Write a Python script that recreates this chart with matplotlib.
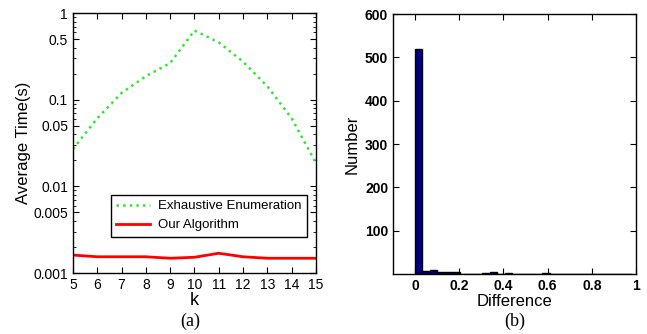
import numpy as np
import matplotlib.pyplot as plt
from matplotlib.ticker import LogLocator, NullFormatter, FixedLocator

plt.rcParams['font.family'] = ['Liberation Sans', 'DejaVu Sans']

# (a) average running time vs k
k = [5, 6, 7, 8, 9, 10, 11, 12, 13, 14, 15]
exhaustive = [0.027, 0.061, 0.12, 0.187, 0.265, 0.63, 0.46, 0.275, 0.143, 0.061, 0.0186]
ours = [0.00161, 0.00154, 0.00154, 0.00154, 0.00148, 0.00152, 0.00169, 0.00154, 0.00148, 0.00148, 0.00148]

# (b) histogram of differences
bin_width = 0.034
diff_counts = [520, 8, 9, 4, 4, 4, 1, 1, 1, 2, 4, 1, 2, 1, 1, 1, 0, 3, 1, 0,
               0, 0, 0, 0, 0, 0, 0, 0, 0]
diff_centers = [bin_width * (i + 0.5) - 0.002 for i in range(len(diff_counts))]

fig = plt.figure(figsize=(6.47, 3.34), dpi=100)

# ---- left panel ----
ax1 = fig.add_axes([0.1128, 0.1826, 0.3756, 0.778])
ax1.plot(k, exhaustive, color='#2ee82e', linestyle=':', linewidth=1.8,
         label='Exhaustive Enumeration')
ax1.plot(k, ours, color='red', linestyle='-', linewidth=2.0, label='Our Algorithm')
ax1.set_yscale('log')
ax1.set_xlim(5, 15)
ax1.set_ylim(0.001, 1)
ax1.set_xticks(range(5, 16))
ax1.yaxis.set_major_locator(FixedLocator([0.001, 0.005, 0.01, 0.05, 0.1, 0.5, 1]))
ax1.set_yticklabels(['0.001', '0.005', '0.01', '0.05', '0.1', '0.5', '1'])
ax1.yaxis.set_minor_locator(LogLocator(base=10, subs=(2, 3, 4, 6, 7, 8, 9)))
ax1.yaxis.set_minor_formatter(NullFormatter())
ax1.tick_params(which='both', direction='in', top=True, right=True, labelsize=10)
ax1.tick_params(which='major', length=4)
ax1.tick_params(which='minor', length=2)
ax1.set_ylabel('Average Time(s)', fontsize=12, labelpad=2)
ax1.set_xlabel('k', fontsize=13, labelpad=0)
leg = ax1.legend(loc='lower right', bbox_to_anchor=(0.99, 0.115), fontsize=9.5,
                 fancybox=False, edgecolor='black', framealpha=1, handlelength=2.6,
                 borderpad=0.4, labelspacing=0.5, handletextpad=0.6)
leg.get_frame().set_linewidth(1.0)
for s in ax1.spines.values():
    s.set_linewidth(1.0)
fig.text(0.294, 0.025, '(a)', fontsize=13, ha='center', family='Liberation Serif')

# ---- right panel ----
ax2 = fig.add_axes([0.6074, 0.1796, 0.3756, 0.778])
ax2.bar(diff_centers, diff_counts, width=bin_width, color='#000080',
        edgecolor='black', linewidth=1.0)
ax2.set_xlim(-0.1, 1)
ax2.set_ylim(0, 600)
ax2.set_xticks([0, 0.2, 0.4, 0.6, 0.8, 1])
ax2.set_xticklabels(['0', '0.2', '0.4', '0.6', '0.8', '1'])
ax2.set_yticks([100, 200, 300, 400, 500, 600])
ax2.tick_params(direction='in', top=True, right=True, labelsize=10, length=4)
for lab in ax2.get_xticklabels() + ax2.get_yticklabels():
    lab.set_fontweight('bold')
ax2.set_ylabel('Number', fontsize=12, labelpad=4)
ax2.set_xlabel('Difference', fontsize=12, labelpad=1)
for s in ax2.spines.values():
    s.set_linewidth(1.0)
fig.text(0.796, 0.025, '(b)', fontsize=13, ha='center', family='Liberation Serif')

fig.savefig('out.png', dpi=100)
